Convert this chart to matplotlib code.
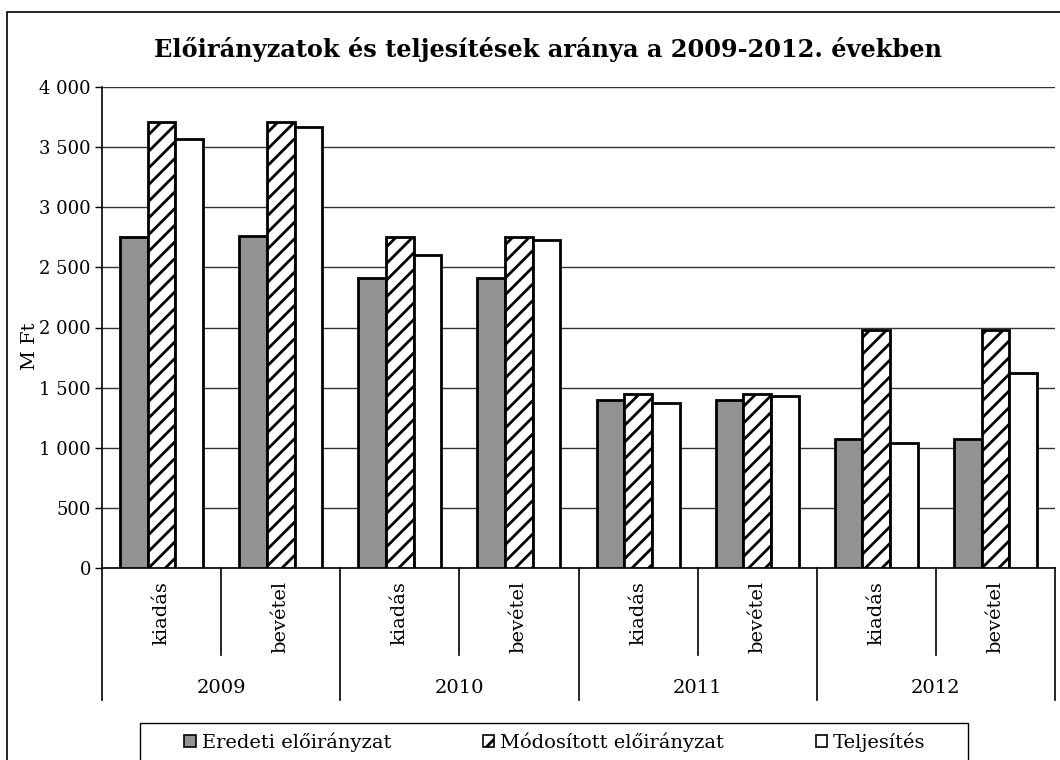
import numpy as np
import matplotlib
matplotlib.use("Agg")
import matplotlib.pyplot as plt
from matplotlib.patches import Rectangle
from matplotlib.ticker import FuncFormatter

# chart data (M Ft)
years = ["2009", "2010", "2011", "2012"]
sub_labels = ["kiadás", "bevétel"]
series_names = ["Eredeti előirányzat", "Módosított előirányzat", "Teljesítés"]
eredeti = [2750, 2760, 2410, 2410, 1400, 1400, 1070, 1075]
modositott = [3710, 3710, 2750, 2750, 1450, 1450, 1980, 1980]
teljesites = [3570, 3670, 2600, 2730, 1370, 1430, 1040, 1620]

plt.rcParams["font.family"] = ["DejaVu Serif"]
plt.rcParams["hatch.linewidth"] = 2.0

fig = plt.figure(figsize=(10.6, 7.6), dpi=100)
W, H = 1060, 760
ax = fig.add_axes([102 / W, 1 - 568 / H, (1055 - 102) / W, (568 - 87) / H])

n = len(eredeti)
x = np.arange(n) + 0.5
bw = 0.232

ax.bar(x - bw, eredeti, bw, color="#929292", edgecolor="black", linewidth=2.0,
       label=series_names[0], zorder=3)
ax.bar(x, modositott, bw, color="white", edgecolor="black", linewidth=2.0,
       hatch="//", label=series_names[1], zorder=3)
ax.bar(x + bw, teljesites, bw, color="white", edgecolor="black", linewidth=2.0,
       label=series_names[2], zorder=3)

ax.set_xlim(0, n)
ax.set_ylim(0, 4000)
ax.set_yticks(np.arange(0, 4001, 500))
ax.yaxis.set_major_formatter(FuncFormatter(lambda v, p: f"{int(v):,}".replace(",", " ")))
ax.yaxis.grid(True, color="#333333", linewidth=1.0, zorder=0)
ax.set_axisbelow(True)
ax.tick_params(axis="y", direction="out", length=5, width=1, labelsize=13, pad=3)
ax.set_xticks([])
for side in ["top", "right"]:
    ax.spines[side].set_visible(False)
ax.spines["left"].set_linewidth(1.2)
ax.spines["bottom"].set_linewidth(1.2)

ax.set_ylabel("M Ft", fontsize=14, labelpad=2)
ax.yaxis.set_label_coords(-0.066, 0.46)

# two-level category axis
trans = ax.get_xaxis_transform()
h_ax = (568 - 87)
sub_end = -(655 - 568) / h_ax
year_end = -(700 - 568) / h_ax
for i in range(n + 1):
    end = year_end if i % 2 == 0 else sub_end
    ax.plot([i, i], [0, end], color="black", linewidth=1.2, transform=trans, clip_on=False)
for i in range(n):
    ax.text(i + 0.5, -(581 - 568) / h_ax, sub_labels[i % 2], rotation=90,
            ha="center", va="top", fontsize=14, transform=trans)
for j, yr in enumerate(years):
    ax.text(2 * j + 1, -(688 - 568) / h_ax, yr, ha="center", va="center",
            fontsize=14, transform=trans)

fig.suptitle("Előirányzatok és teljesítések aránya a 2009-2012. években",
             x=548 / W, y=1 - 50 / H, va="center", fontsize=17.3, fontweight="bold")

leg = fig.legend(loc="center", bbox_to_anchor=(555 / W, 1 - 742 / H),
                 ncol=3, fontsize=14, frameon=False,
                 handlelength=0.6, handleheight=0.6, handletextpad=0.3,
                 columnspacing=4.7, borderpad=0, borderaxespad=0)
for hnd in leg.legend_handles:
    hnd.set_linewidth(1.2)

# legend frame
fig.patches.append(Rectangle((140 / W, 1 - 761 / H), (968 - 140) / W, (761 - 723) / H,
                             transform=fig.transFigure, fill=False,
                             edgecolor="black", linewidth=1.0))

# outer chart border
fig.patches.append(Rectangle((7 / W, -0.05), 1.2, 1 - 12 / H + 0.05, transform=fig.transFigure,
                             fill=False, edgecolor="black", linewidth=1.2))

fig.savefig("out.png", dpi=100)
